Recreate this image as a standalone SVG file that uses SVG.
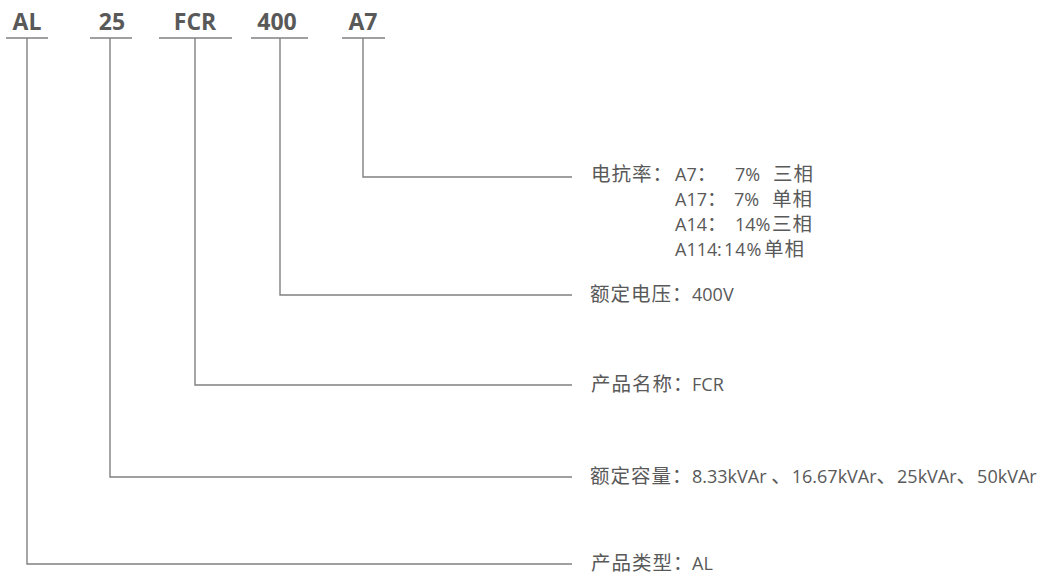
<svg xmlns="http://www.w3.org/2000/svg" width="1041" height="577" viewBox="0 0 1041 577">
<style>
.ln{fill:none;stroke:#808080;stroke-width:1.4}
.hd{font-family:"Open Sans","Noto Sans CJK SC",sans-serif;font-weight:700;font-size:23px;fill:#595959;text-anchor:middle}
.t{font-family:"Open Sans","Noto Sans CJK SC",sans-serif;font-size:18px;fill:#595959}
.c{font-family:"Noto Sans CJK SC",sans-serif;font-size:19.5px;letter-spacing:1px}
</style>
<rect width="1041" height="577" fill="#ffffff"/>
<g id="code-AL"><text class="hd" x="27" y="30">AL</text><line class="ln" x1="6" y1="38" x2="48" y2="38"/></g>
<g id="code-25"><text class="hd" x="112" y="30">25</text><line class="ln" x1="90" y1="38" x2="132" y2="38"/></g>
<g id="code-FCR"><text class="hd" x="195" y="30">FCR</text><line class="ln" x1="159" y1="38" x2="232" y2="38"/></g>
<g id="code-400"><text class="hd" x="277" y="30">400</text><line class="ln" x1="251" y1="38" x2="308" y2="38"/></g>
<g id="code-A7"><text class="hd" x="363" y="30">A7</text><line class="ln" x1="342" y1="38" x2="385" y2="38"/></g>
<g id="connectors">
<polyline class="ln" points="27,38 27,564 572,564"/>
<polyline class="ln" points="110,38 110,477 572,477"/>
<polyline class="ln" points="195,38 195,385 572,385"/>
<polyline class="ln" points="280,38 280,295 572,295"/>
<polyline class="ln" points="363,38 363,177 572,177"/>
</g>
<g id="desc-reactance">
<text class="t" y="181"><tspan class="c" x="591">电抗率：</tspan><tspan x="675">A7</tspan><tspan class="c">：</tspan><tspan x="735">7%</tspan><tspan class="c" x="773">三相</tspan></text>
<text class="t" y="206"><tspan x="675">A17</tspan><tspan class="c">：</tspan><tspan x="734">7%</tspan><tspan class="c" x="772">单相</tspan></text>
<text class="t" y="231"><tspan x="675">A14</tspan><tspan class="c">：</tspan><tspan x="735">14%</tspan><tspan class="c" x="772">三相</tspan></text>
<text class="t" y="256"><tspan x="675">A114</tspan><tspan x="717">:</tspan><tspan x="724" letter-spacing="1">14%</tspan><tspan class="c" x="764">单相</tspan></text>
</g>
<g id="desc-voltage"><text class="t" y="301"><tspan class="c" x="590">额定电压：</tspan><tspan x="692">400V</tspan></text></g>
<g id="desc-name"><text class="t" y="391"><tspan class="c" x="591">产品名称：</tspan><tspan x="692">FCR</tspan></text></g>
<g id="desc-capacity"><text class="t" y="483"><tspan class="c" x="590">额定容量：</tspan><tspan x="692">8.33kVAr </tspan><tspan class="c">、</tspan><tspan>16.67kVAr</tspan><tspan class="c">、</tspan><tspan>25kVAr</tspan><tspan class="c">、</tspan><tspan>50kVAr</tspan></text></g>
<g id="desc-type"><text class="t" y="570"><tspan class="c" x="591">产品类型：</tspan><tspan x="692">AL</tspan></text></g>
</svg>
